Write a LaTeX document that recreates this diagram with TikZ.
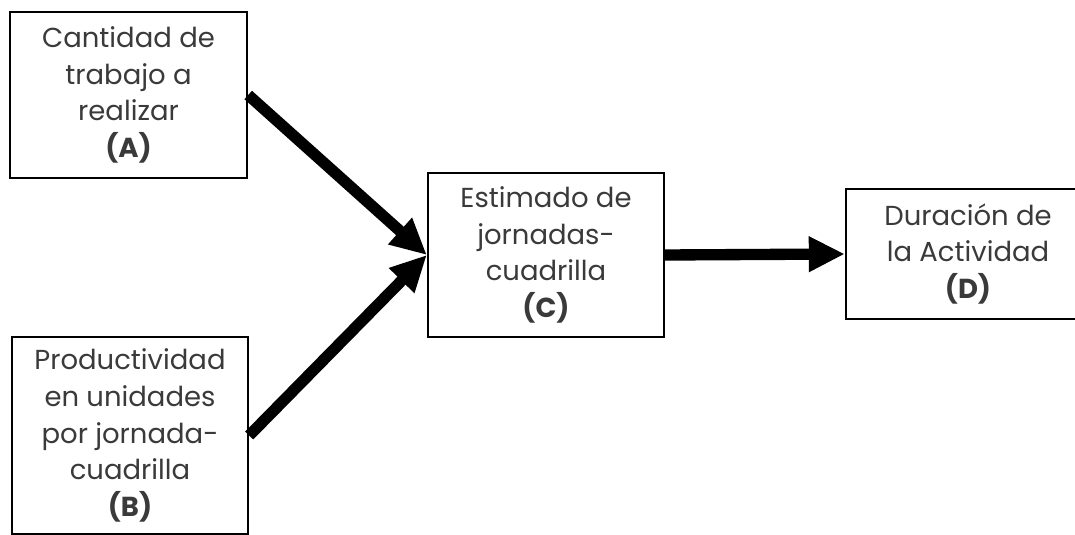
\documentclass[tikz,border=0pt]{standalone}
\usepackage{fontspec}
\setmainfont{Poppins}
\usetikzlibrary{arrows.meta}

\tikzset{every picture/.style={line width=0.75pt}}
\tikzset{
  blockbox/.style={draw, line width=1.8pt, align=center, inner sep=0pt,
    text={rgb,255:red,58;green,58;blue,58},
    font=\fontsize{20.6}{27.6}\selectfont},
  fatarrow/.style={line width=8.5pt, -{Triangle[length=27pt,width=25pt]}}
}

\begin{document}
\begin{tikzpicture}[x=0.75pt,y=0.75pt,yscale=-1,xscale=1]
\useasboundingbox (0,0) rectangle (1075,535);
\clip (0,0) rectangle (1075,535);

%Shape: Rectangle
\node [blockbox, minimum width=177.75pt, minimum height=124.5pt] (A) at (128.5,95)
  {Cantidad de\\trabajo a\\realizar\\\textbf{(A)}};
%Shape: Rectangle
\node [blockbox, minimum width=177pt, minimum height=147.75pt] (B) at (130,435.5)
  {Productividad\\en unidades\\por jornada-\\cuadrilla\\\textbf{(B)}};
%Shape: Rectangle
\node [blockbox, minimum width=177pt, minimum height=123pt] (C) at (546,255)
  {Estimado de\\jornadas-\\cuadrilla\\\textbf{(C)}};
%Shape: Rectangle
\node [blockbox, minimum width=183pt, minimum height=97.5pt] (D) at (968,254)
  {Duración de\\la Actividad\\\textbf{(D)}};

%Straight Lines
\draw [fatarrow] (A.east) -- (C.west);
%Straight Lines
\draw [fatarrow] (B.east) -- (C.west);
%Straight Lines
\draw [fatarrow] (C.east) -- (D.west);

\end{tikzpicture}
\end{document}
